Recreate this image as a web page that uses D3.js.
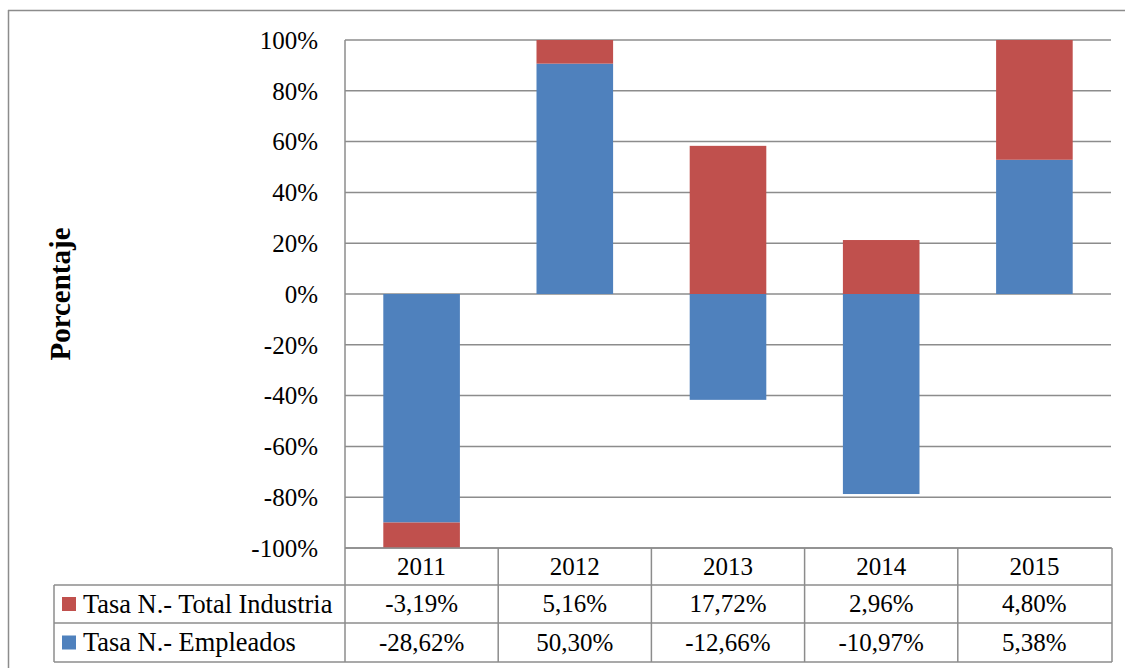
<!DOCTYPE html>
<html><head><meta charset="utf-8">
<script src="https://cdn.jsdelivr.net/npm/d3@7"></script>
<style>html,body{margin:0;padding:0;background:#fff;}svg{display:block;}</style>
</head><body>
<svg id="c" width="1125" height="668"></svg>
<script>
const years = ["2011","2012","2013","2014","2015"];
const seriesNames = ["Tasa N.- Total Industria","Tasa N.- Empleados"];
const totalIndustria = [-3.19, 5.16, 17.72, 2.96, 4.80];
const empleados = [-28.62, 50.30, -12.66, -10.97, 5.38];
const tableText = {
  "Tasa N.- Total Industria": ["-3,19%","5,16%","17,72%","2,96%","4,80%"],
  "Tasa N.- Empleados": ["-28,62%","50,30%","-12,66%","-10,97%","5,38%"]
};
const yTicks = [-1,-0.8,-0.6,-0.4,-0.2,0,0.2,0.4,0.6,0.8,1];
const colors = {"Tasa N.- Total Industria":"#C0504D","Tasa N.- Empleados":"#4F81BD"};

const svg = d3.select("#c");
const font = "'Liberation Serif','Times New Roman',serif";
const gridColor = "#8c8c8c";
const L = 345, R = 1111, T = 40, B = 548;
const tableRight = 1112, tableLeft = 54;
const rowY = [548, 585, 623, 662];

// outer border
svg.append("line").attr("x1",8).attr("x2",1125).attr("y1",10.5).attr("y2",10.5).attr("stroke",gridColor).attr("stroke-width",1.5);
svg.append("line").attr("x1",8.5).attr("x2",8.5).attr("y1",10).attr("y2",668).attr("stroke",gridColor).attr("stroke-width",1.5);

const x = d3.scaleBand().domain(years).range([L,R]).paddingInner(0.5).paddingOuter(0.25);
const y = d3.scaleLinear().domain([-1,1]).range([B,T]);

// gridlines
svg.append("g").selectAll("line").data(yTicks).join("line")
  .attr("x1",L).attr("x2",R).attr("y1",d=>y(d)).attr("y2",d=>y(d))
  .attr("stroke",gridColor).attr("stroke-width",1.5);

// y axis tick labels
const yAxis = d3.axisLeft(y).tickValues(yTicks).tickSize(0).tickPadding(0)
  .tickFormat(d=>Math.round(d*100)+"%");
const ga = svg.append("g").attr("transform",`translate(${L-27},0)`).call(yAxis);
ga.select(".domain").remove();
ga.selectAll("text").attr("font-family",font).attr("font-size",25).attr("fill","#000").attr("dy","0.33em");

// compute 100% stacked with negatives
const raw = years.map((yr,i)=>({year:yr, "Tasa N.- Empleados":empleados[i], "Tasa N.- Total Industria":totalIndustria[i]}));
const order = ["Tasa N.- Empleados","Tasa N.- Total Industria"];
const rects = [];
raw.forEach(r=>{
  const sumAbs = order.reduce((s,k)=>s+Math.abs(r[k]),0);
  let pos = 0, neg = 0;
  order.forEach(k=>{
    const v = r[k]/sumAbs;
    if (v>=0){ rects.push({year:r.year,key:k,y0:pos,y1:pos+v}); pos+=v; }
    else { rects.push({year:r.year,key:k,y0:neg,y1:neg+v}); neg+=v; }
  });
});
svg.append("g").selectAll("rect").data(rects).join("rect")
  .attr("x",d=>x(d.year)).attr("width",x.bandwidth())
  .attr("y",d=>y(Math.max(d.y0,d.y1))).attr("height",d=>Math.abs(y(d.y0)-y(d.y1)))
  .attr("fill",d=>colors[d.key]);

// y axis line
svg.append("line").attr("x1",L).attr("x2",L).attr("y1",T).attr("y2",B).attr("stroke",gridColor).attr("stroke-width",1.5);

// data table
const tg = svg.append("g");
const step = x.step();
const colEdges = d3.range(years.length+1).map(i=>L+i*step);
tg.append("line").attr("x1",L).attr("x2",tableRight).attr("y1",rowY[0]).attr("y2",rowY[0]).attr("stroke",gridColor).attr("stroke-width",1.5);
[rowY[1],rowY[2],rowY[3]].forEach(yy=>{
  tg.append("line").attr("x1",tableLeft).attr("x2",tableRight).attr("y1",yy).attr("y2",yy).attr("stroke",gridColor).attr("stroke-width",1.5);
});
colEdges.forEach((xx,i)=>{
  const xe = i===years.length ? tableRight : xx;
  tg.append("line").attr("x1",xe).attr("x2",xe).attr("y1",rowY[0]).attr("y2",rowY[3]).attr("stroke",gridColor).attr("stroke-width",1.5);
});
tg.append("line").attr("x1",tableLeft).attr("x2",tableLeft).attr("y1",rowY[1]).attr("y2",rowY[3]).attr("stroke",gridColor).attr("stroke-width",1.5);

// year labels
tg.selectAll("text.yr").data(years).join("text").attr("class","yr")
  .attr("x",d=>x(d)+x.bandwidth()/2).attr("y",(rowY[0]+rowY[1])/2).attr("dy","0.33em")
  .attr("text-anchor","middle").attr("font-family",font).attr("font-size",25).text(d=>d);

seriesNames.forEach((s,si)=>{
  const cy = (rowY[si+1]+rowY[si+2])/2;
  tg.append("rect").attr("x",62).attr("y",cy-7).attr("width",14).attr("height",14).attr("fill",colors[s]);
  tg.append("text").attr("x",83).attr("y",cy).attr("dy","0.33em").attr("font-family",font).attr("font-size",26.4).text(s);
  tg.selectAll("text.v"+si).data(tableText[s]).join("text").attr("class","v"+si)
    .attr("x",(d,i)=>x(years[i])+x.bandwidth()/2).attr("y",cy).attr("dy","0.33em")
    .attr("text-anchor","middle").attr("font-family",font).attr("font-size",25).text(d=>d);
});

// y axis title
svg.append("text").attr("transform","translate(70,294) rotate(-90)")
  .attr("text-anchor","middle").attr("font-family",font).attr("font-weight","bold").attr("font-size",29)
  .text("Porcentaje");
</script>
</body></html>
